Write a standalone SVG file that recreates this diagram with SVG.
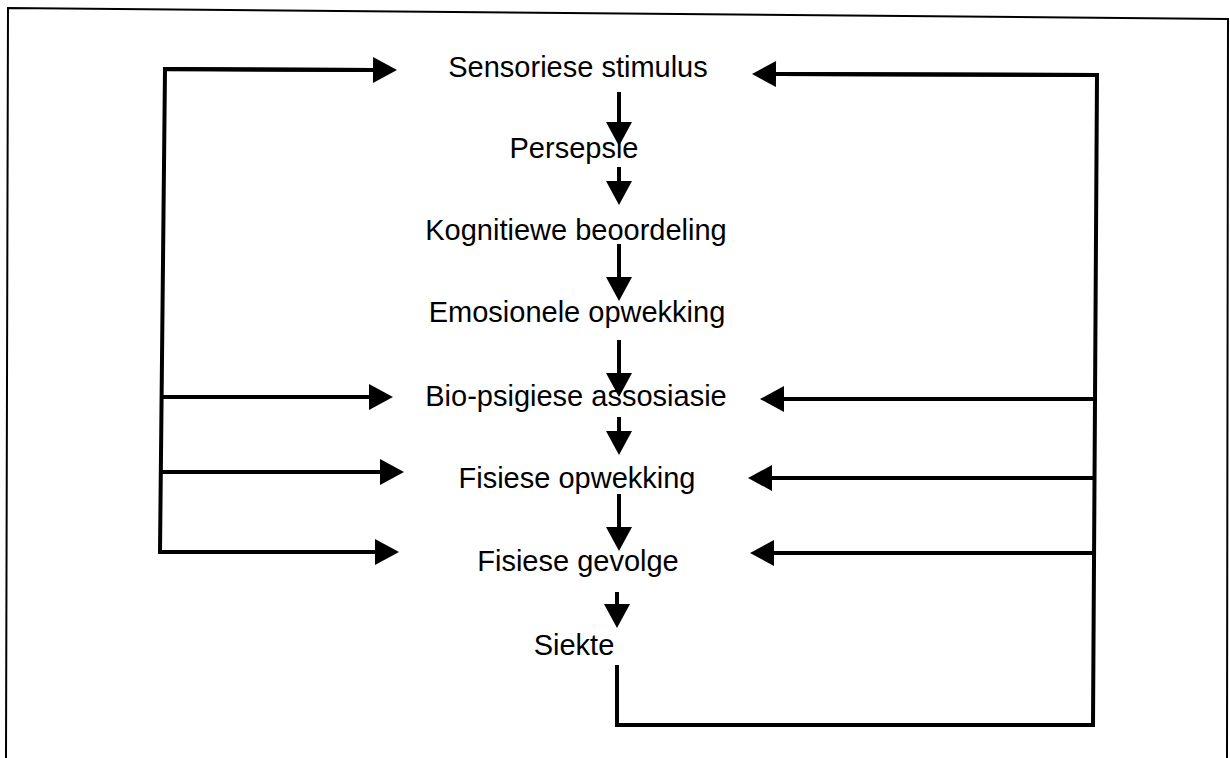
<svg xmlns="http://www.w3.org/2000/svg" width="1230" height="758" viewBox="0 0 1230 758">
  <style>
    .label { font-family: "Liberation Sans", Arial, Helvetica, sans-serif; font-size: 29px; fill: #000; text-anchor: middle; }
    .link { fill: none; stroke: #000; stroke-width: 4; stroke-linejoin: miter; stroke-linecap: square; }
    .arrow { fill: none; stroke: #000; stroke-width: 4; stroke-linecap: butt; marker-end: url(#head); }
    .frame { fill: none; stroke: #000; stroke-width: 2; }
  </style>
  <defs>
    <marker id="head" markerUnits="userSpaceOnUse" markerWidth="24" markerHeight="26" refX="0" refY="13" orient="auto" overflow="visible">
      <path d="M0,0 L24,13 L0,26 Z" fill="#000"/>
    </marker>
  </defs>

  <rect width="1230" height="758" fill="#fff"/>

  <!-- page frame -->
  <path class="frame" d="M6,758 L8,8 L1228,19 L1227,758"/>

  <g id="connectors">
    <!-- main chain, top to bottom -->
    <path class="arrow" d="M619,92 L619,122"/>
    <path class="arrow" d="M619,167 L619,181"/>
    <path class="arrow" d="M619,244 L619,277"/>
    <path class="arrow" d="M619,340 L619,373"/>
    <path class="arrow" d="M619,417 L619,431"/>
    <path class="arrow" d="M619,494 L619,527"/>
    <path class="arrow" d="M617,592 L617,604"/>

    <!-- left feedback bus -->
    <path class="link" d="M372,70 L165,69 L160,552"/>
    <path class="arrow" d="M165,69 L373,70"/>
    <path class="arrow" d="M161,397 L369,397"/>
    <path class="arrow" d="M160,472 L380,472"/>
    <path class="arrow" d="M160,552 L375,552"/>

    <!-- right feedback bus from Siekte -->
    <path class="link" d="M617,667 L617,725 L1093,725 L1097,75 L780,74"/>
    <path class="arrow" d="M1097,75 L776,74"/>
    <path class="arrow" d="M1094,399 L784,399"/>
    <path class="arrow" d="M1093,478 L772,478"/>
    <path class="arrow" d="M1093,553 L774,553"/>
  </g>

  <g id="sensoriese-stimulus"><text class="label" x="578" y="77">Sensoriese stimulus</text></g>
  <g id="persepsie"><text class="label" x="574" y="158">Persepsie</text></g>
  <g id="kognitiewe-beoordeling"><text class="label" x="576" y="240">Kognitiewe beoordeling</text></g>
  <g id="emosionele-opwekking"><text class="label" x="577" y="322">Emosionele opwekking</text></g>
  <g id="bio-psigiese-assosiasie"><text class="label" x="576" y="406">Bio-psigiese assosiasie</text></g>
  <g id="fisiese-opwekking"><text class="label" x="577" y="488">Fisiese opwekking</text></g>
  <g id="fisiese-gevolge"><text class="label" x="578" y="571">Fisiese gevolge</text></g>
  <g id="siekte"><text class="label" x="574" y="655">Siekte</text></g>
</svg>
